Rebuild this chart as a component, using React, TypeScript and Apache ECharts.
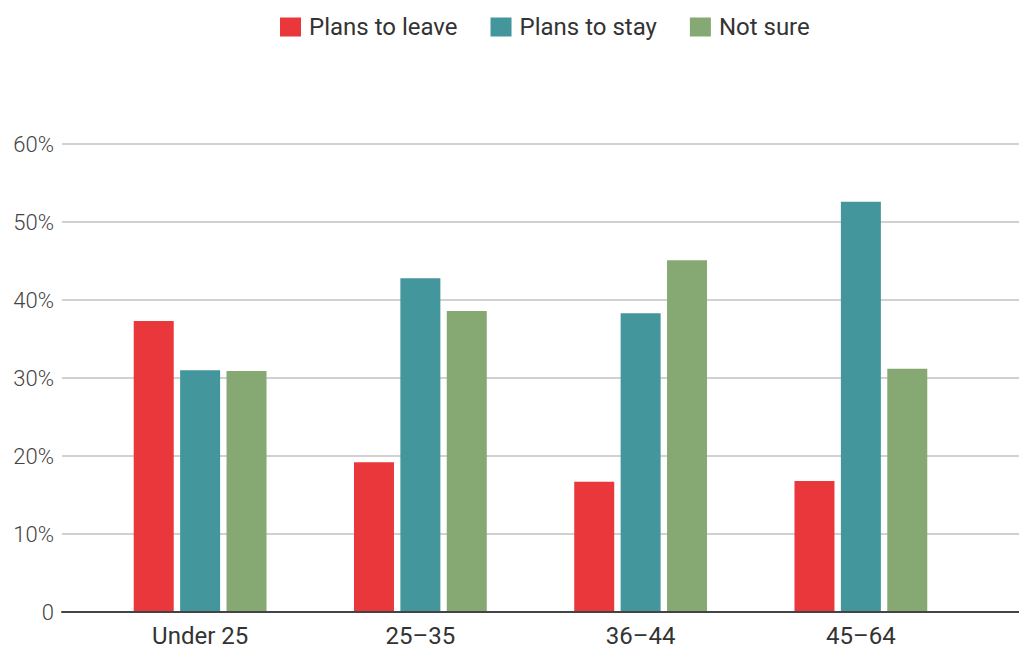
import React, { useEffect, useRef } from "react";
import * as echarts from "echarts";

const categories = ["Under 25", "25\u201335", "36\u201344", "45\u201364"];
const plansToLeave = [37.3, 19.2, 16.7, 16.8];
const plansToStay = [31.0, 42.8, 38.3, 52.6];
const notSure = [30.9, 38.6, 45.1, 31.2];
const seriesNames = ["Plans to leave", "Plans to stay", "Not sure"];
const colors = ["#EA373B", "#43969C", "#86A973"];

export default function App() {
  const ref = useRef<HTMLDivElement>(null);
  useEffect(() => {
    if (!ref.current) return;
    const chart = echarts.init(ref.current, null, { renderer: "svg" });
    const values = [plansToLeave, plansToStay, notSure];
    chart.setOption({
      animation: false,
      textStyle: { fontFamily: "Roboto" },
      legend: {
        top: 10,
        left: 275,
        itemWidth: 21,
        itemHeight: 19,
        itemGap: 33,
        icon: "rect",
        textStyle: { fontSize: 24, color: "#333", fontFamily: "Roboto", padding: [0, 0, 0, 3] },
        data: seriesNames,
      },
      grid: [
        { left: 62, right: 0, top: 144, bottom: 38 },
        { left: 90, right: 48, top: 144, bottom: 38 },
      ],
      xAxis: [
        {
          gridIndex: 0,
          type: "value",
          min: 0,
          max: 1,
          axisLine: { show: true, onZero: false, lineStyle: { color: "#444", width: 2 } },
          axisTick: { show: false },
          axisLabel: { show: false },
          splitLine: { show: false },
          z: 5,
        },
        {
          gridIndex: 1,
          type: "category",
          data: categories,
          axisLine: { show: false },
          axisTick: { show: false },
          axisLabel: { fontSize: 24, color: "#333", margin: 12, fontFamily: "Roboto" },
        },
      ],
      yAxis: [
        {
          gridIndex: 0,
          type: "value",
          min: 0,
          max: 60,
          interval: 10,
          axisLine: { show: false },
          axisTick: { show: false },
          axisLabel: {
            fontSize: 22,
            fontWeight: 300,
            color: "#444",
            margin: 8,
            fontFamily: "Roboto",
            formatter: (v: number) => (v === 0 ? "0" : v + "%"),
          },
          splitLine: { lineStyle: { color: "#c2c2c2", width: 1.5 } },
        },
        {
          gridIndex: 1,
          type: "value",
          min: 0,
          max: 60,
          interval: 10,
          show: false,
          splitLine: { show: false },
        },
      ],
      series: seriesNames.map((name, i) => ({
        name,
        type: "bar",
        xAxisIndex: 1,
        yAxisIndex: 1,
        data: values[i],
        barWidth: 40,
        barGap: "16%",
        itemStyle: { color: colors[i] },
      })),
    });
    return () => chart.dispose();
  }, []);
  return (
    <div
      ref={ref}
      style={{ position: "fixed", left: 0, top: 0, width: 1019, height: 650, background: "#fff" }}
    />
  );
}
